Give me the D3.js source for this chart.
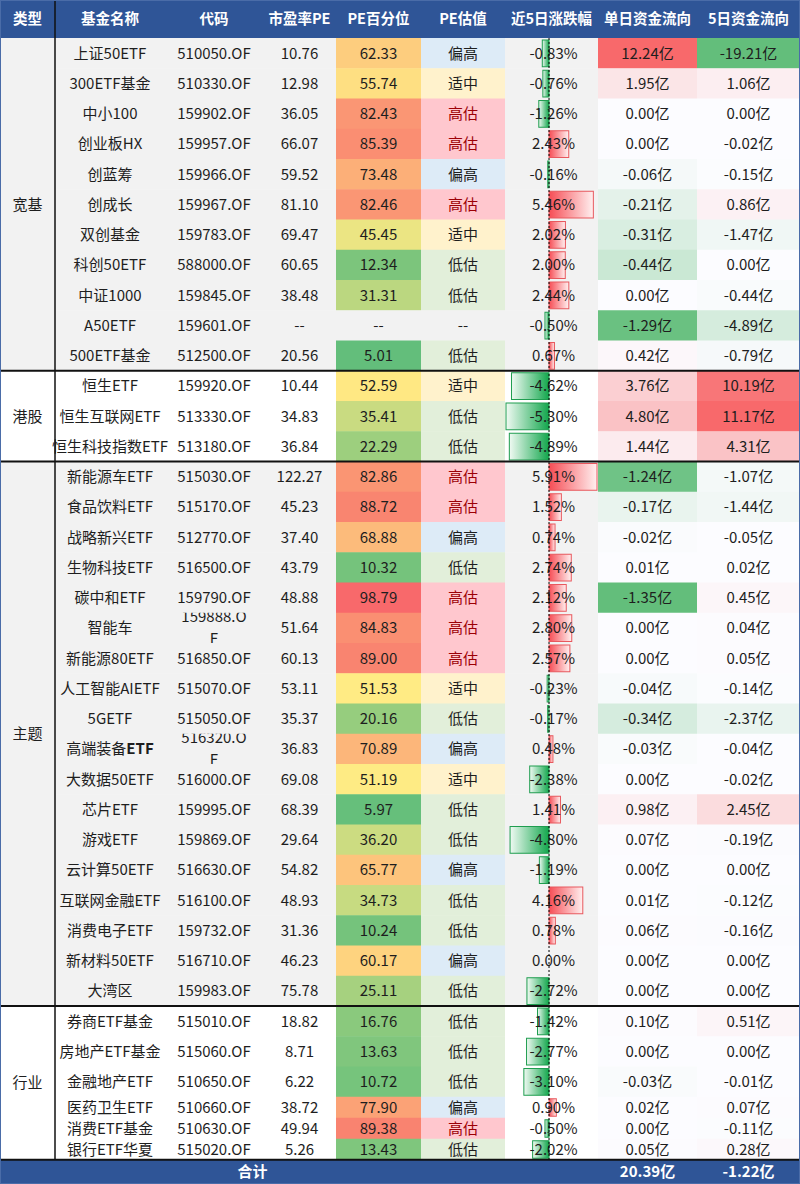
<!DOCTYPE html>
<html>
<head>
<meta charset="utf-8">
<script src="https://cdn.jsdelivr.net/npm/d3@7"></script>
<style>
body { margin: 0; background: #fff; }
svg { display: block; font-family: "Noto Sans CJK SC", "Noto Sans", sans-serif; }
</style>
</head>
<body>
<div id="chart"></div>
<script>
"use strict";

var columns = ["类型", "基金名称", "代码", "市盈率PE", "PE百分位", "PE估值", "近5日涨跌幅", "单日资金流向", "5日资金流向"];
var sections = ["宽基", "港股", "主题", "行业"];
var sectionSizes = [11, 3, 18, 6];

var fundNames = ["上证50ETF", "300ETF基金", "中小100", "创业板HX", "创蓝筹", "创成长", "双创基金", "科创50ETF", "中证1000", "A50ETF", "500ETF基金",
  "恒生ETF", "恒生互联网ETF", "恒生科技指数ETF",
  "新能源车ETF", "食品饮料ETF", "战略新兴ETF", "生物科技ETF", "碳中和ETF", "智能车", "新能源80ETF", "人工智能AIETF", "5GETF", "高端装备ETF",
  "大数据50ETF", "芯片ETF", "游戏ETF", "云计算50ETF", "互联网金融ETF", "消费电子ETF", "新材料50ETF", "大湾区",
  "券商ETF基金", "房地产ETF基金", "金融地产ETF", "医药卫生ETF", "消费ETF基金", "银行ETF华夏"];
var fundCodes = ["510050.OF", "510330.OF", "159902.OF", "159957.OF", "159966.OF", "159967.OF", "159783.OF", "588000.OF", "159845.OF", "159601.OF", "512500.OF",
  "159920.OF", "513330.OF", "513180.OF",
  "515030.OF", "515170.OF", "512770.OF", "516500.OF", "159790.OF", "159888.OF", "516850.OF", "515070.OF", "515050.OF", "516320.OF",
  "516000.OF", "159995.OF", "159869.OF", "516630.OF", "516100.OF", "159732.OF", "516710.OF", "159983.OF",
  "515010.OF", "515060.OF", "510650.OF", "510660.OF", "510630.OF", "515020.OF"];
var peRatio = [10.76, 12.98, 36.05, 66.07, 59.52, 81.10, 69.47, 60.65, 38.48, null, 20.56,
  10.44, 34.83, 36.84,
  122.27, 45.23, 37.40, 43.79, 48.88, 51.64, 60.13, 53.11, 35.37, 36.83,
  69.08, 68.39, 29.64, 54.82, 48.93, 31.36, 46.23, 75.78,
  18.82, 8.71, 6.22, 38.72, 49.94, 5.26];
var pePercentile = [62.33, 55.74, 82.43, 85.39, 73.48, 82.46, 45.45, 12.34, 31.31, null, 5.01,
  52.59, 35.41, 22.29,
  82.86, 88.72, 68.88, 10.32, 98.79, 84.83, 89.00, 51.53, 20.16, 70.89,
  51.19, 5.97, 36.20, 65.77, 34.73, 10.24, 60.17, 25.11,
  16.76, 13.63, 10.72, 77.90, 89.38, 13.43];
var peLevel = ["偏高", "适中", "高估", "高估", "偏高", "高估", "适中", "低估", "低估", null, "低估",
  "适中", "低估", "低估",
  "高估", "高估", "偏高", "低估", "高估", "高估", "高估", "适中", "低估", "偏高",
  "适中", "低估", "低估", "偏高", "低估", "低估", "偏高", "低估",
  "低估", "低估", "低估", "偏高", "高估", "低估"];
var change5d = [-0.83, -0.76, -1.26, 2.43, -0.16, 5.46, 2.02, 2.00, 2.44, -0.50, 0.67,
  -4.62, -5.30, -4.89,
  5.91, 1.52, 0.74, 2.74, 2.12, 2.80, 2.57, -0.23, -0.17, 0.48,
  -2.38, 1.41, -4.80, -1.19, 4.16, 0.78, 0.00, -2.72,
  -1.42, -2.77, -3.10, 0.90, -0.50, -2.02];
var flow1d = [12.24, 1.95, 0.00, 0.00, -0.06, -0.21, -0.31, -0.44, 0.00, -1.29, 0.42,
  3.76, 4.80, 1.44,
  -1.24, -0.17, -0.02, 0.01, -1.35, 0.00, 0.00, -0.04, -0.34, -0.03,
  0.00, 0.98, 0.07, 0.00, 0.01, 0.06, 0.00, 0.00,
  0.10, 0.00, -0.03, 0.02, 0.00, 0.05];
var flow5d = [-19.21, 1.06, 0.00, -0.02, -0.15, 0.86, -1.47, 0.00, -0.44, -4.89, -0.79,
  10.19, 11.17, 4.31,
  -1.07, -1.44, -0.05, 0.02, 0.45, 0.04, 0.05, -0.14, -2.37, -0.04,
  -0.02, 2.45, -0.19, 0.00, -0.12, -0.16, 0.00, 0.00,
  0.51, 0.00, -0.01, 0.07, -0.11, 0.28];
var flowTotals = [20.39, -1.22];

var config = {
  width: 800,
  height: 1184,
  headerH: 38,
  rowH: 30.25,
  shortRowH: 21,
  colEdges: [0, 55, 165, 263, 336, 421, 505, 598, 697, 800],
  fontSize: 15,
  headerBlue: "#2F5597",
  text: "#1E1E1E"
};

var levelColors = { "偏高": "#DDEBF7", "适中": "#FFF2CC", "高估": "#FFC7CE", "低估": "#E2EFDA" };
var wrappedCodes = ["159888.OF", "516320.OF"];
var f2 = d3.formatLocale({ decimal: ".", thousands: ",", grouping: [3], currency: ["", ""], minus: "-" }).format(".2f");

var svg = d3.select("#chart").append("svg")
  .attr("width", config.width)
  .attr("height", config.height);

// row geometry
var nRows = fundNames.length;
var heights = fundNames.map(function(d, i) { return i >= nRows - 3 ? config.shortRowH : config.rowH; });
var tops = [config.headerH].concat(Array.from(d3.cumsum(heights), function(v) { return config.headerH + v; }));
var bodyBottom = tops[nRows];

var sectionOf = [];
sectionSizes.forEach(function(n, s) { for (var k = 0; k < n; k++) sectionOf.push(s); });
var sectionStart = [0].concat(Array.from(d3.cumsum(sectionSizes)));
function sectionBg(s) { return s % 2 === 0 ? "#F2F2F2" : "#FFFFFF"; }
function colMid(c) { return (config.colEdges[c] + config.colEdges[c + 1]) / 2; }
function colW(c) { return config.colEdges[c + 1] - config.colEdges[c]; }

// colour scales
var pctVals = pePercentile.filter(function(v) { return v != null; });
var pctColor = d3.scaleLinear()
  .domain([d3.min(pctVals), d3.median(pctVals), d3.max(pctVals)])
  .range(["#63BE7B", "#FFEB84", "#F8696B"]);
function flowScale(vals) {
  return d3.scaleLinear()
    .domain([d3.min(vals), d3.median(vals), d3.max(vals)])
    .range(["#63BE7B", "#FCFCFF", "#F8696B"]);
}
var flow1dColor = flowScale(flow1d);
var flow5dColor = flowScale(flow5d);

var barX = d3.scaleLinear()
  .domain(d3.extent(change5d))
  .range([config.colEdges[6] + 1, config.colEdges[7] - 1]);

var defs = svg.append("defs");
var gPos = defs.append("linearGradient").attr("id", "gradPos");
gPos.append("stop").attr("offset", "0%").attr("stop-color", "#F64D55");
gPos.append("stop").attr("offset", "100%").attr("stop-color", "#FFF0F0");
var gNeg = defs.append("linearGradient").attr("id", "gradNeg");
gNeg.append("stop").attr("offset", "0%").attr("stop-color", "#F0FAF3");
gNeg.append("stop").attr("offset", "100%").attr("stop-color", "#12A64C");

// header
svg.append("rect")
  .attr("x", 0).attr("y", 0)
  .attr("width", config.width).attr("height", config.headerH)
  .attr("fill", config.headerBlue);
svg.selectAll("text.colHead")
  .data(columns)
  .enter().append("text")
  .classed("colHead", true)
  .attr("x", function(d, i) { return colMid(i); })
  .attr("y", config.headerH / 2)
  .attr("dy", "0.36em")
  .attr("text-anchor", "middle")
  .attr("fill", "#fff")
  .attr("style", "font-size:14.5px; font-weight:700;")
  .text(function(d) { return d; });

// section label column
var secG = svg.append("g").classed("sections", true);
sections.forEach(function(name, s) {
  var y0 = tops[sectionStart[s]], y1 = tops[sectionStart[s + 1]];
  secG.append("rect")
    .attr("x", 0).attr("y", y0)
    .attr("width", colW(0)).attr("height", y1 - y0)
    .attr("fill", sectionBg(s));
  secG.append("text")
    .attr("x", colMid(0))
    .attr("y", (y0 + y1) / 2)
    .attr("dy", "0.36em")
    .attr("text-anchor", "middle")
    .attr("fill", config.text)
    .attr("style", "font-size:" + config.fontSize + "px;")
    .text(name);
});

// body rows
var rows = fundNames.map(function(name, i) {
  return {
    i: i, name: name, code: fundCodes[i], pe: peRatio[i], pct: pePercentile[i],
    level: peLevel[i], chg: change5d[i], f1: flow1d[i], f5: flow5d[i],
    y: tops[i], h: heights[i], bg: sectionBg(sectionOf[i])
  };
});

var rowG = svg.selectAll("g.row")
  .data(rows)
  .enter().append("g")
  .classed("row", true)
  .attr("transform", function(d) { return "translate(0," + d.y + ")"; });

function cellFill(d, c) {
  if (c === 4) return d.pct == null ? d.bg : pctColor(d.pct);
  if (c === 5) return d.level == null ? d.bg : levelColors[d.level];
  if (c === 7) return flow1dColor(d.f1);
  if (c === 8) return flow5dColor(d.f5);
  return d.bg;
}
function cellText(d, c) {
  if (c === 1) return d.name;
  if (c === 2) return d.code;
  if (c === 3) return d.pe == null ? "--" : f2(d.pe);
  if (c === 4) return d.pct == null ? "--" : f2(d.pct);
  if (c === 5) return d.level == null ? "--" : d.level;
  if (c === 6) return f2(d.chg) + "%";
  if (c === 7) return f2(d.f1) + "亿";
  if (c === 8) return f2(d.f5) + "亿";
}

[1, 2, 3, 4, 5, 6, 7, 8].forEach(function(c) {
  rowG.append("rect")
    .attr("x", config.colEdges[c])
    .attr("y", 0)
    .attr("width", colW(c))
    .attr("height", function(d) { return d.h + 0.5; })
    .attr("fill", function(d) { return cellFill(d, c); });
});

// data bars for 5-day change
rowG.append("rect")
  .classed("bar", true)
  .attr("x", function(d) { return Math.min(barX(0), barX(d.chg)); })
  .attr("y", 2)
  .attr("width", function(d) { return Math.abs(barX(d.chg) - barX(0)); })
  .attr("height", function(d) { return d.h - 3.5; })
  .attr("fill", function(d) { return d.chg >= 0 ? "url(#gradPos)" : "url(#gradNeg)"; })
  .attr("stroke", function(d) { return d.chg >= 0 ? "#E8585E" : "#1F9D4F"; })
  .attr("stroke-width", 1)
  .style("display", function(d) { return d.chg === 0 ? "none" : null; });

[1, 2, 3, 4, 5, 6, 7, 8].forEach(function(c) {
  rowG.filter(function(d) { return !(c === 2 && wrappedCodes.indexOf(d.code) >= 0); })
    .append("text")
    .attr("x", colMid(c) + (c === 6 ? 2 : 0))
    .attr("y", function(d) { return d.h / 2; })
    .attr("dy", "0.36em")
    .attr("text-anchor", "middle")
    .attr("fill", function(d) { return c === 5 && d.level === "高估" ? "#9C0006" : config.text; })
    .attr("style", "font-size:" + config.fontSize + "px;")
    .each(function(d) {
      var t = d3.select(this), s = cellText(d, c);
      // the reference shows the ETF suffix of this name in bold
      if (c === 1 && d.name === "高端装备ETF") {
        t.append("tspan").text(s.slice(0, 4));
        t.append("tspan").attr("font-weight", 700).text(s.slice(4));
      } else {
        t.text(s);
      }
    });
});

// codes that wrap onto two lines inside a narrow cell, clipped by the row
rowG.filter(function(d) { return wrappedCodes.indexOf(d.code) >= 0; })
  .each(function(d) {
    var g = d3.select(this);
    var id = "clip" + d.i;
    defs.append("clipPath").attr("id", id)
      .append("rect")
      .attr("x", config.colEdges[2]).attr("y", d.y)
      .attr("width", colW(2)).attr("height", d.h);
    var t = g.append("text")
      .attr("clip-path", "url(#" + id + ")")
      .attr("transform", "translate(0," + (-d.y) + ")")
      .attr("text-anchor", "middle")
      .attr("fill", config.text)
      .attr("style", "font-size:" + config.fontSize + "px;");
    t.append("tspan").attr("x", colMid(2)).attr("y", d.y + 9.5).text(d.code.slice(0, -1));
    t.append("tspan").attr("x", colMid(2)).attr("y", d.y + 31).text(d.code.slice(-1));
  });

// zero axis of the data bars
svg.append("line")
  .attr("x1", barX(0)).attr("x2", barX(0))
  .attr("y1", config.headerH).attr("y2", bodyBottom)
  .attr("stroke", "#000")
  .attr("stroke-width", 1)
  .attr("stroke-dasharray", "2,2");

// total row
svg.append("rect")
  .attr("x", 0).attr("y", bodyBottom)
  .attr("width", config.width).attr("height", config.height - bodyBottom)
  .attr("fill", config.headerBlue);
var totalY = (bodyBottom + config.height) / 2;
svg.append("text")
  .attr("x", (config.colEdges[0] + config.colEdges[6]) / 2)
  .attr("y", totalY).attr("dy", "0.36em")
  .attr("text-anchor", "middle").attr("fill", "#fff")
  .attr("style", "font-size:15px; font-weight:700;")
  .text("合计");
svg.selectAll("text.total")
  .data(flowTotals)
  .enter().append("text")
  .classed("total", true)
  .attr("x", function(d, i) { return colMid(7 + i); })
  .attr("y", totalY).attr("dy", "0.36em")
  .attr("text-anchor", "middle").attr("fill", "#fff")
  .attr("style", "font-size:15px; font-weight:700;")
  .text(function(d) { return f2(d) + "亿"; });

// borders
svg.append("line")
  .attr("x1", colW(0)).attr("x2", colW(0))
  .attr("y1", 0).attr("y2", bodyBottom)
  .attr("stroke", "#111").attr("stroke-width", 1.5);
svg.selectAll("line.sep")
  .data(sectionStart.slice(1))
  .enter().append("line")
  .classed("sep", true)
  .attr("x1", 0).attr("x2", config.width)
  .attr("y1", function(d) { return tops[d]; })
  .attr("y2", function(d) { return tops[d]; })
  .attr("stroke", "#111").attr("stroke-width", 2);
svg.append("rect")
  .attr("x", 0.5).attr("y", 0.5)
  .attr("width", config.width - 1).attr("height", config.height - 1)
  .attr("fill", "none")
  .attr("stroke", "#4A6CA8").attr("stroke-width", 1);
</script>
</body>
</html>
